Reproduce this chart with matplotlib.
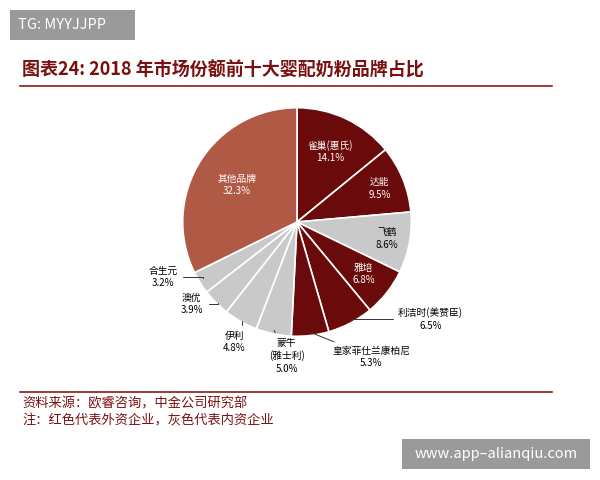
import matplotlib
matplotlib.use("Agg")
import matplotlib.pyplot as plt
import numpy as np
from matplotlib.patches import Rectangle

plt.rcParams['font.family'] = ['Noto Sans CJK SC', 'DejaVu Sans']

brands = ['雀巢(惠氏)', '达能', '飞鹤', '雅培', '利洁时(美赞臣)', '皇家菲仕兰康柏尼',
          '蒙牛\n(雅士利)', '伊利', '澳优', '合生元', '其他品牌']
shares = [14.1, 9.5, 8.6, 6.8, 6.5, 5.3, 5.0, 4.8, 3.9, 3.2, 32.3]
kind = ['f', 'f', 'd', 'f', 'f', 'f', 'd', 'd', 'd', 'd', 'o']
colmap = {'f': '#6b0a0a', 'd': '#c9c9c9', 'o': '#b05a45'}
colors = [colmap[k] for k in kind]

fig = plt.figure(figsize=(6, 4.8), dpi=100)
fig.patch.set_facecolor('white')

R = 120
cx, cy = 297, 222
ax = fig.add_axes([(cx - R) / 600, 1 - (cy + R) / 480, 2 * R / 600, 2 * R / 480])
wedges, _ = ax.pie(shares, colors=colors, startangle=90, counterclock=False,
                   wedgeprops=dict(edgecolor='white', linewidth=1.2))
ax.set_xlim(-1.05, 1.05); ax.set_ylim(-1.05, 1.05)
ax.set_aspect('equal')

inside = {0: 0.68, 1: 0.78, 2: 0.8, 3: 0.74, 10: 0.62}
outside = {4: (1.17, -0.85), 5: (0.65, -1.18), 6: (-0.09, -1.17), 7: (-0.55, -1.05),
           8: (-0.92, -0.72), 9: (-1.17, -0.48)}
cum = 0
for i, (b, s) in enumerate(zip(brands, shares)):
    mid = 90 - (cum + s / 2) * 3.6
    cum += s
    a = np.deg2rad(mid)
    txt = f'{b}\n{s:.1f}%'
    tc = 'white' if kind[i] != 'd' else 'black'
    if i in inside:
        r = inside[i]
        ax.text(r * np.cos(a), r * np.sin(a), txt, ha='center', va='center',
                fontsize=7, color=tc, linespacing=1.3)
    else:
        tx, ty = outside[i]
        ax.annotate(txt, xy=(np.cos(a) * 0.97, np.sin(a) * 0.97), xytext=(tx, ty),
                    ha='center', va='center', fontsize=7, color='black', linespacing=1.3,
                    annotation_clip=False,
                    arrowprops=dict(arrowstyle='-', color='#333333', lw=0.7,
                                    connectionstyle='angle,angleA=0,angleB=90,rad=0'
                                    if i in (4, 7, 8, 9) else 'arc3'))

fig.text(22 / 600, 1 - 70 / 480, '图表24: 2018 年市场份额前十大婴配奶粉品牌占比', fontsize=13,
         color='#7a1010', fontweight='bold', style='italic', va='center')
fig.add_artist(plt.Line2D([20 / 600, 552 / 600], [1 - 86 / 480] * 2, color='#8b1a1a', lw=1.2))
fig.add_artist(plt.Line2D([20 / 600, 552 / 600], [1 - 392 / 480] * 2, color='#8b1a1a', lw=1.2))
fig.text(22 / 600, 1 - 404 / 480, '资料来源：欧睿咨询，中金公司研究部', fontsize=9.5,
         color='#7a1010', style='italic', va='center')
fig.text(22 / 600, 1 - 421 / 480, '注：红色代表外资企业，灰色代表内资企业', fontsize=9.5,
         color='#7a1010', style='italic', va='center')

fig.add_artist(Rectangle((10 / 600, 1 - 40 / 480), 125 / 600, 30 / 480, transform=fig.transFigure,
                         facecolor='#9a9a9a', edgecolor='none'))
fig.text(18 / 600, 1 - 25 / 480, 'TG: MYYJJPP', fontsize=10.5, color='white', va='center')
fig.add_artist(Rectangle((402 / 600, 1 - 469 / 480), 188 / 600, 30 / 480, transform=fig.transFigure,
                         facecolor='#9a9a9a', edgecolor='none'))
fig.text(496 / 600, 1 - 454 / 480, 'www.app–alianqiu.com', fontsize=10.5, color='white',
         va='center', ha='center')

fig.savefig('out.png', dpi=100)
